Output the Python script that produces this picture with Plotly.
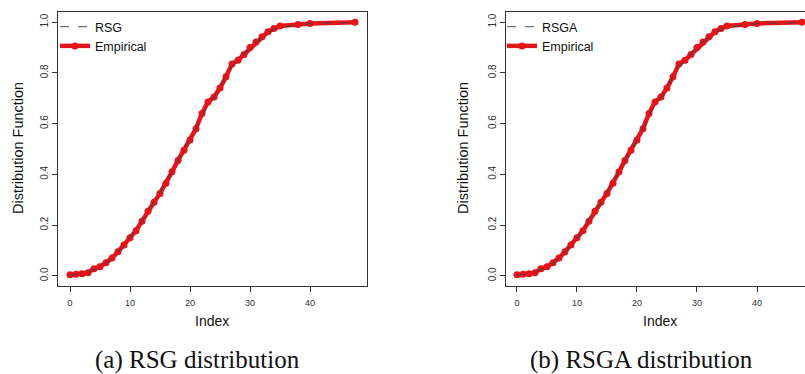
import plotly.graph_objects as go

W, H = 805, 374

# Data
index_vals = list(range(0, 36)) + [38, 40, 47.5]
empirical = [0.004, 0.006, 0.008, 0.012, 0.028, 0.036, 0.052, 0.070, 0.095, 0.122,
             0.150, 0.178, 0.215, 0.255, 0.290, 0.325, 0.365, 0.410, 0.455, 0.495,
             0.535, 0.580, 0.640, 0.685, 0.705, 0.740, 0.785, 0.835, 0.850, 0.872,
             0.900, 0.922, 0.942, 0.962, 0.975, 0.985, 0.991, 0.995, 1.000]
fit_rsg = [0.002, 0.005, 0.009, 0.015, 0.024, 0.035, 0.050, 0.069, 0.093, 0.120,
           0.150, 0.182, 0.218, 0.255, 0.292, 0.329, 0.368, 0.410, 0.452, 0.494,
           0.537, 0.582, 0.630, 0.672, 0.705, 0.743, 0.786, 0.826, 0.851, 0.875,
           0.899, 0.921, 0.941, 0.959, 0.972, 0.981, 0.988, 0.994, 0.999]
fit_rsga = [0.002, 0.005, 0.009, 0.015, 0.024, 0.035, 0.050, 0.069, 0.093, 0.120,
            0.149, 0.181, 0.222, 0.250, 0.290, 0.328, 0.367, 0.409, 0.452, 0.494,
            0.537, 0.582, 0.631, 0.673, 0.705, 0.743, 0.786, 0.827, 0.851, 0.875,
            0.899, 0.921, 0.941, 0.959, 0.972, 0.981, 0.988, 0.994, 0.999]
x_ticks = [0, 10, 20, 30, 40]
y_ticks = [0.0, 0.2, 0.4, 0.6, 0.8, 1.0]
y_tick_text = ["0.0", "0.2", "0.4", "0.6", "0.8", "1.0"]
panels = [
    {"fit": fit_rsg, "name": "RSG", "caption": "(a) RSG distribution"},
    {"fit": fit_rsga, "name": "RSGA", "caption": "(b) RSGA distribution"},
]

RED = "#e4141a"
fig = go.Figure()

def px_x(p):
    return p / W

def px_y(p):
    return 1 - p / H

# panel geometry in pixels
geo = [
    {"l": 58, "r": 367, "xr": [-2.0, 49.5], "ytitle": 18, "leg": 55, "xtitle": 212, "cap": 197},
    {"l": 506, "r": 805, "xr": [-1.83, 48.0], "ytitle": 463, "leg": 502, "xtitle": 660, "cap": 641},
]
top, bottom = 12, 286

for i, (p, g) in enumerate(zip(panels, geo)):
    sfx = "" if i == 0 else "2"
    leg = "legend" if i == 0 else "legend2"
    fig.add_trace(go.Scatter(
        x=index_vals, y=empirical, mode="lines+markers", name="Empirical",
        line=dict(color=RED, width=4.5), marker=dict(color=RED, size=7),
        xaxis="x" + sfx, yaxis="y" + sfx, legend=leg, legendrank=2))
    fig.add_trace(go.Scatter(
        x=index_vals, y=p["fit"], mode="lines", name=p["name"],
        line=dict(color="#444444", width=1.2, dash="dash"), opacity=0.75,
        xaxis="x" + sfx, yaxis="y" + sfx, legend=leg, legendrank=1))

    axcommon = dict(showline=True, mirror=True, linecolor="#333333", linewidth=1,
                    ticks="outside", ticklen=5, tickcolor="#333333", showgrid=False,
                    zeroline=False)
    fig.layout["xaxis" + sfx] = dict(
        domain=[px_x(g["l"]), px_x(g["r"])], range=g["xr"], tickvals=x_ticks,
        anchor="y" + sfx, ticklabelstandoff=3,
        tickfont=dict(family="Liberation Sans", size=9, color="#333333"), **axcommon)
    fig.layout["yaxis" + sfx] = dict(
        domain=[px_y(bottom), px_y(top)], range=[-0.04, 1.04], tickvals=y_ticks,
        ticktext=y_tick_text, tickangle=-90, anchor="x" + sfx,
        tickfont=dict(family="Liberation Sans", size=10, color="#333333"), **axcommon)

    fig.add_annotation(x=px_x(g["xtitle"]), y=px_y(321), xref="paper", yref="paper",
                       text="Index", showarrow=False, xanchor="center", yanchor="middle",
                       font=dict(family="Liberation Sans", size=14, color="#111111"))
    fig.add_annotation(x=px_x(g["ytitle"]), y=px_y(148), xref="paper", yref="paper",
                       text="Distribution Function", showarrow=False, textangle=-90,
                       xanchor="center", yanchor="middle",
                       font=dict(family="Liberation Sans", size=14.5, color="#111111"))
    fig.add_annotation(x=px_x(g["cap"]), y=px_y(360), xref="paper", yref="paper",
                       text=p["caption"], showarrow=False, xanchor="center", yanchor="middle",
                       font=dict(family="Liberation Serif", size=25, color="#111111"))
    fig.layout[leg] = dict(x=px_x(g["leg"]), y=px_y(12), xanchor="left", yanchor="top",
                           bgcolor="rgba(0,0,0,0)", borderwidth=0, tracegroupgap=0,
                           font=dict(family="Liberation Sans", size=12.5, color="#111111"),
                           itemwidth=30)

fig.update_layout(width=W, height=H, margin=dict(l=0, r=0, t=0, b=0),
                  paper_bgcolor="white", plot_bgcolor="white", showlegend=True)
fig.write_html("out.html")
